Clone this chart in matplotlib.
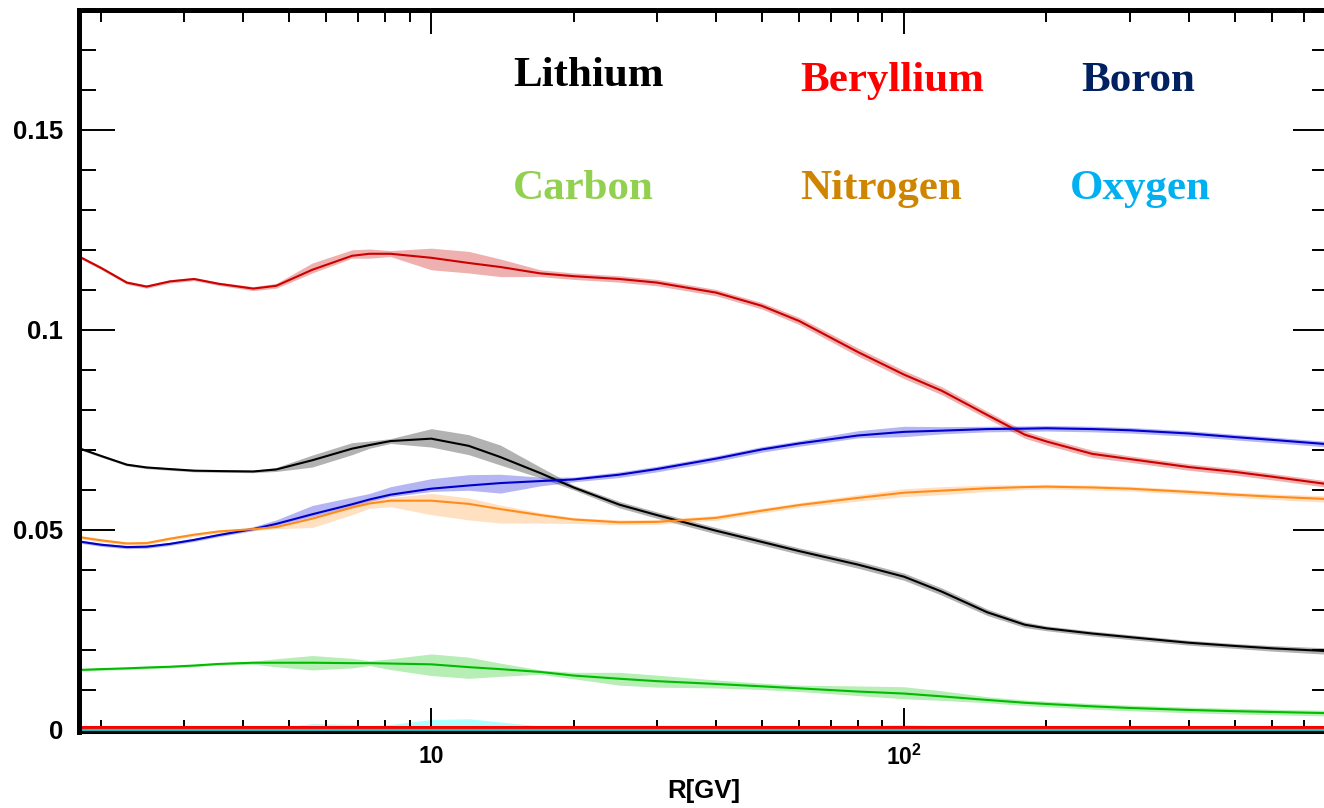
import matplotlib
matplotlib.use('Agg')
import matplotlib.pyplot as plt
from matplotlib.ticker import FixedLocator, LogLocator, NullFormatter, MultipleLocator
import numpy as np

plt.rcParams['font.family'] = ['Liberation Sans', 'DejaVu Sans']
plt.rcParams['mathtext.default'] = 'regular'

# rigidity grid [GV]
R = [1.8, 2.0, 2.27, 2.5, 2.8, 3.15, 3.55, 4.2, 4.7, 5.6, 6.8, 7.4, 8.2, 10,
     12, 14, 17, 20, 25, 30, 40, 50, 60, 80, 100, 120, 150, 180, 200, 250,
     300, 400, 500, 600, 790]

# central values
beryllium = [0.1183, 0.1155, 0.1118, 0.1108, 0.1121, 0.1127, 0.1115, 0.1103, 0.1110,
             0.1150, 0.1185, 0.1190, 0.1190, 0.1180, 0.1167, 0.1157, 0.1141, 0.1134,
             0.1127, 0.1118, 0.1093, 0.1060, 0.1022, 0.0944, 0.0888, 0.0848, 0.0787,
             0.0738, 0.0721, 0.0690, 0.0677, 0.0657, 0.0645, 0.0633, 0.0614]
lithium = [0.0704, 0.0685, 0.0663, 0.0656, 0.0652, 0.0648, 0.0647, 0.0646, 0.0651,
           0.0674, 0.0703, 0.0712, 0.0722, 0.0728, 0.0710, 0.0682, 0.0642, 0.0606,
           0.0563, 0.0537, 0.0498, 0.0470, 0.0447, 0.0413, 0.0383, 0.0346, 0.0294,
           0.0263, 0.0254, 0.0241, 0.0232, 0.0218, 0.0210, 0.0204, 0.0197]
boron = [0.0471, 0.0463, 0.0457, 0.0458, 0.0465, 0.0475, 0.0487, 0.0502, 0.0515,
         0.0539, 0.0564, 0.0576, 0.0588, 0.0603, 0.0611, 0.0617, 0.0622, 0.0626,
         0.0638, 0.0652, 0.0678, 0.0701, 0.0716, 0.0736, 0.0745, 0.0748, 0.0752,
         0.0753, 0.0754, 0.0752, 0.0749, 0.0741, 0.0732, 0.0725, 0.0714]
nitrogen = [0.0482, 0.0474, 0.0466, 0.0467, 0.0478, 0.0488, 0.0496, 0.0502, 0.0507,
            0.0528, 0.0556, 0.0566, 0.0573, 0.0573, 0.0565, 0.0552, 0.0537, 0.0526,
            0.0519, 0.0520, 0.0530, 0.0548, 0.0562, 0.0580, 0.0593, 0.0598, 0.0604,
            0.0607, 0.0608, 0.0606, 0.0603, 0.0595, 0.0588, 0.0583, 0.0577]
carbon = [0.0150, 0.0152, 0.0154, 0.0156, 0.0158, 0.0161, 0.0165, 0.0168, 0.0168,
          0.0168, 0.0167, 0.0167, 0.0166, 0.0164, 0.0157, 0.0152, 0.0145, 0.0136,
          0.0128, 0.0122, 0.0115, 0.0109, 0.0104, 0.0096, 0.0091, 0.0084, 0.0075,
          0.0068, 0.0065, 0.0059, 0.0055, 0.0050, 0.0047, 0.0045, 0.0042]
oxygen = [0.0] * len(R)
oxygen_hi = [0.0, 0.0, 0.0, 0.0, 0.0, 0.0, 0.0, 0.0, 0.0005, 0.0016, 0.0014, 0.0008,
             0.0014, 0.0026, 0.0028, 0.0020, 0.0010, 0.0006, 0.0010, 0.0012, 0.0010,
             0.0008, 0.0008, 0.0010, 0.0014, 0.0010, 0.0006, 0.0006, 0.0006, 0.0006,
             0.0006, 0.0006, 0.0006, 0.0006, 0.0006]
other_red = [0.00075] * len(R)

# band half widths (units of 1e-4), upper / lower
be_up = [4, 4, 4, 4, 4, 4, 4, 5, 6, 17, 15, 12, 8, 24, 29, 20, 9, 8, 8, 8, 8, 8, 9, 10,
         10, 10, 9, 9, 9, 9, 8, 8, 8, 8, 8]
be_dn = [4, 4, 4, 4, 4, 4, 4, 5, 6, 8, 6, 11, 7, 30, 25, 24, 8, 8, 8, 8, 8, 8, 9, 10,
         10, 10, 9, 9, 9, 9, 8, 8, 8, 8, 8]
li_up = [3, 3, 3, 3, 3, 3, 3, 3, 5, 13, 15, 10, 6, 25, 28, 30, 15, 6, 8, 8, 8, 8, 8, 9,
         9, 9, 8, 7, 6, 6, 6, 6, 6, 7, 8]
li_dn = [3, 3, 3, 3, 3, 3, 3, 3, 5, 17, 15, 8, 6, 21, 22, 20, 12, 6, 8, 8, 8, 8, 8, 9,
         9, 9, 8, 7, 6, 6, 6, 6, 6, 7, 8]
b_up = [4, 4, 4, 4, 4, 4, 4, 6, 10, 22, 18, 15, 20, 25, 27, 22, 10, 6, 7, 7, 7, 7, 7, 12,
        14, 10, 7, 7, 7, 7, 7, 7, 7, 7, 7]
b_dn = [4, 4, 4, 4, 4, 4, 4, 4, 4, 6, 5, 5, 5, 7, 12, 25, 12, 6, 7, 7, 7, 7, 7, 6,
        12, 8, 7, 7, 7, 7, 7, 7, 7, 7, 7]
n_up = [4, 4, 4, 4, 4, 4, 4, 4, 4, 5, 8, 10, 8, 18, 15, 10, 6, 5, 6, 6, 6, 6, 6, 8,
        10, 10, 8, 6, 6, 6, 6, 6, 6, 7, 8]
n_dn = [4, 4, 4, 4, 4, 4, 4, 4, 4, 22, 18, 12, 15, 35, 40, 35, 20, 10, 6, 6, 6, 6, 6, 8,
        10, 10, 8, 6, 6, 6, 6, 6, 6, 7, 8]
c_up = [3, 3, 3, 3, 3, 3, 3, 4, 10, 18, 12, 6, 12, 26, 25, 15, 5, 8, 16, 15, 10, 8, 8, 14,
        17, 14, 8, 7, 7, 7, 7, 7, 7, 7, 7]
c_dn = [3, 3, 3, 3, 3, 3, 3, 4, 10, 18, 12, 6, 15, 28, 28, 18, 6, 8, 16, 15, 10, 8, 8, 10,
        13, 10, 7, 7, 7, 7, 7, 7, 7, 7, 7]

x_ticks = [10, 100]
x_tick_labels = ['10', r'$\mathregular{10^{2}}$']
y_ticks = [0, 0.05, 0.1, 0.15]
y_tick_labels = ['0', '0.05', '0.1', '0.15']

fig = plt.figure(figsize=(13.24, 8.08), dpi=100)
ax = fig.add_axes([0.0598, 0.0941, 0.9436, 0.8939])

series = [
    (beryllium, be_up, be_dn, '#cc0000', '#d01010', 0.33),
    (lithium, li_up, li_dn, 'black', 'black', 0.30),
    (boron, b_up, b_dn, '#0000cc', '#2020dd', 0.33),
    (nitrogen, n_up, n_dn, '#ff8c1a', '#ff9933', 0.30),
    (carbon, c_up, c_dn, '#00bb00', '#22cc22', 0.33),
]

x = np.array(R)
for vals, up, dn, lc, fc, a in series:
    v = np.array(vals)
    ax.fill_between(x, v - np.array(dn) * 1e-4, v + np.array(up) * 1e-4,
                    color=fc, alpha=a, lw=0)
    ax.plot(x, v, color=lc, lw=1.5)

# near-zero components
ax.fill_between(x, oxygen, oxygen_hi, color='#33ffff', alpha=0.4, lw=0)
ax.plot(x, other_red, color='#ff0000', lw=2.2, solid_capstyle='butt')
ax.plot(x, oxygen, color='#00cccc', lw=1.6, solid_capstyle='butt')

ax.set_xscale('log')
ax.set_xlim(1.8, 790)
ax.set_ylim(-0.0005, 0.18)

ax.xaxis.set_major_locator(FixedLocator(x_ticks))
ax.set_xticklabels(x_tick_labels)
ax.xaxis.set_minor_locator(LogLocator(base=10, subs=np.arange(2, 10)))
ax.xaxis.set_minor_formatter(NullFormatter())
ax.set_yticks(y_ticks)
ax.set_yticklabels(y_tick_labels)
ax.yaxis.set_minor_locator(MultipleLocator(0.01))

ax.tick_params(which='both', direction='in', top=True, right=True, width=1.4)
ax.tick_params(axis='y', which='major', length=26, pad=11.5, labelsize=18.5)
ax.tick_params(axis='y', which='minor', length=12.5)
ax.tick_params(axis='x', which='major', length=17, pad=9.5, labelsize=16.5)
ax.tick_params(axis='x', which='minor', length=8.5)
for lab in ax.get_xticklabels() + ax.get_yticklabels():
    lab.set_fontweight('bold')

for sp in ax.spines.values():
    sp.set_linewidth(3.6)
ax.spines['bottom'].set_linewidth(2.2)

ax.set_xlabel('R[GV]', fontsize=18.5, fontweight='bold', labelpad=6)

names = ['Lithium', 'Beryllium', 'Boron', 'Carbon', 'Nitrogen', 'Oxygen']
name_colors = ['black', '#ff0000', '#002060', '#92d050', '#d08500', '#00b0f0']
name_pos = [(0.3472, 0.8943), (0.577, 0.8873), (0.8019, 0.8873),
            (0.3472, 0.7376), (0.577, 0.7376), (0.793, 0.7376)]
for nm, c, (px, py) in zip(names, name_colors, name_pos):
    ax.text(px, py, nm, transform=ax.transAxes, color=c, fontsize=31,
            fontweight='bold', family=['Liberation Serif', 'DejaVu Serif'],
            ha='left', va='baseline')

fig.savefig('out.png', dpi=100)
